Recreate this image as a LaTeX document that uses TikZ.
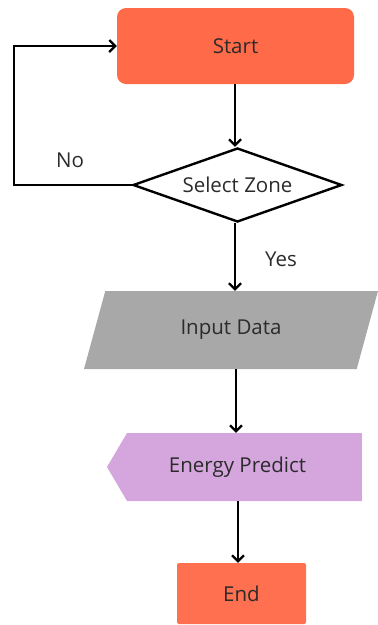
\documentclass[tikz,border=0pt]{standalone}
\usepackage{fontspec}
\setmainfont{Open Sans}
\usetikzlibrary{shapes.geometric,shapes.symbols,arrows.meta}
\definecolor{startred}{HTML}{FF6A48}
\definecolor{endred}{HTML}{FF7050}
\definecolor{datagray}{HTML}{A8A8A8}
\definecolor{predpurple}{HTML}{D5A6DE}
\definecolor{txt}{HTML}{2B2B2B}
\begin{document}
\begin{tikzpicture}[x=1pt,y=-1pt,font=\fontsize{20.5}{24}\selectfont,
    every node/.style={text=txt,inner sep=0pt},
    flow/.style={line width=2.4pt,-{Straight Barb[length=6pt,width=12pt,line width=2.2pt]}}]
    \useasboundingbox (0,0) rectangle (378,625);
    \node [fill=startred,rounded corners=9pt,minimum width=237pt,minimum height=76pt] (start) at (235.5,46) {Start};
    \node [draw,line width=2.4pt,diamond,aspect=2.82,minimum width=209pt,minimum height=74pt] (zone) at (237.5,185) {Select Zone};
    \node [fill=datagray,trapezium,trapezium left angle=66.4,trapezium right angle=113.6,trapezium stretches=true,minimum width=294pt,minimum height=78pt] (data) at (231,330) {Input Data};
    \node [fill=predpurple,signal,signal to=west,signal pointer angle=119,minimum width=255pt,minimum height=68pt] (predict) at (244.5,467) {\hspace*{-14pt}Energy Predict};
    \node [fill=endred,rounded corners=2pt,minimum width=129pt,minimum height=61pt] (end) at (241.5,593.5) {End};
    \coordinate (loop) at (14,185);
    % connectors
    \draw [flow] (start.south -| 235,0) -- (zone.north -| 235,0);
    \draw [flow] (zone.west) -- (loop) |- (start.west);
    \draw [flow] (zone.south -| 235,0) -- node [right=29pt,pos=0.54] (yes) {Yes} (data.north -| 235,0);
    \draw [flow] (data.south -| 236,0) -- (predict.north -| 236,0);
    \draw [flow] (predict.south -| 238,0) -- (end.north -| 238,0);
    \node (no) at (70,160) {No};
\end{tikzpicture}
\end{document}
